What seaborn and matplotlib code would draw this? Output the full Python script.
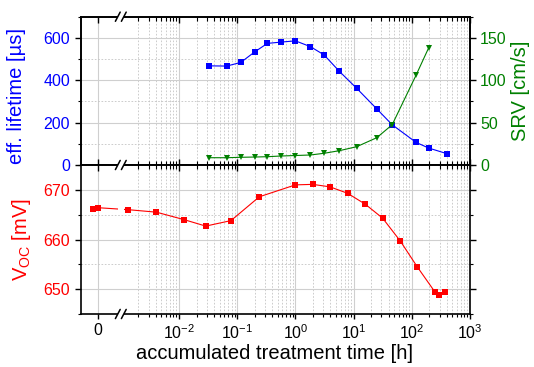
import numpy as np
import matplotlib
matplotlib.use("Agg")
import matplotlib.pyplot as plt
import seaborn as sns
from matplotlib.ticker import FixedLocator, FixedFormatter, MultipleLocator
from matplotlib.path import Path
from matplotlib.lines import Line2D

# ---------------- data ----------------
t_top = [0.033, 0.066, 0.115, 0.20, 0.33, 0.56, 1.0, 1.8, 3.1, 5.7, 11.3, 25, 46, 118, 195, 407]
lifetime = [468, 467, 484, 534, 574, 580, 586, 559, 520, 442, 362, 265, 190, 107, 80, 53]
t_srv = [0.033, 0.066, 0.115, 0.20, 0.33, 0.56, 1.0, 1.8, 3.1, 5.7, 11.3, 25, 46, 118, 195]
srv = [8.6, 8.6, 9.1, 9.4, 9.8, 10.6, 11.2, 11.8, 13.8, 16.9, 21.6, 32.2, 47.5, 105.8, 138.3]
t_voc = [-0.00022, 0.0, 0.00135, 0.0041, 0.0122, 0.0288, 0.078, 0.24, 1.0, 1.98, 3.93,
         7.9, 15.9, 31.5, 63.4, 124, 251, 297, 367]
voc = [666.2, 666.4, 666.0, 665.5, 664.0, 662.7, 663.8, 668.6, 671.0, 671.1, 670.6,
       669.3, 667.1, 664.3, 659.7, 654.5, 649.4, 648.9, 649.5]

x_major = [0, 1e-2, 1e-1, 1, 10, 100, 1000]
x_major_labels = ["0", r"$\mathregular{10^{-2}}$", r"$\mathregular{10^{-1}}$", r"$\mathregular{10^{0}}$",
                  r"$\mathregular{10^{1}}$", r"$\mathregular{10^{2}}$", r"$\mathregular{10^{3}}$"]
x_minor = [k * 10.0 ** e for e in range(-3, 3) for k in range(2, 10)]

BLUE = "#0000FF"
GREEN = "#008000"
RED = "#FF0000"

# ---------------- style ----------------
sns.set_style("white")
plt.rcParams["font.family"] = ["Liberation Sans", "DejaVu Sans"]
plt.rcParams["mathtext.fontset"] = "custom"
plt.rcParams["mathtext.rm"] = "Liberation Sans"
plt.rcParams["mathtext.it"] = "Liberation Sans:italic"
plt.rcParams["font.size"] = 11.5
plt.rcParams["text.color"] = "black"
plt.rcParams["axes.labelcolor"] = "black"
plt.rcParams["xtick.color"] = "black"
plt.rcParams["ytick.color"] = "black"
plt.rcParams["axes.edgecolor"] = "black"

# ---------------- broken x scale (linear near 0, log from 1e-3) ----------------
BRK = 1e-3
S = 0.387


def fwd(x):
    x = np.asarray(x, dtype=float)
    lg = np.log10(np.maximum(x, BRK))
    lin = -3.0 + (x - BRK) / BRK * S
    return np.where(x >= BRK, lg, lin)


def inv(d):
    d = np.asarray(d, dtype=float)
    lg = 10.0 ** np.clip(d, -300, 300)
    lin = BRK + (d + 3.0) / S * BRK
    return np.where(d >= -3.0, lg, lin)


XMIN, XMAX = -7.8e-4, 1e3

W, H = 534, 367
LPX, RPX = 80.7, 470.0
TOP, MID, BOT = 16.7, 165.0, 314.0

fig = plt.figure(figsize=(W / 100, H / 100), dpi=100)
ax1 = fig.add_axes([LPX / W, 1 - MID / H, (RPX - LPX) / W, (MID - TOP) / H])
ax2 = fig.add_axes([LPX / W, 1 - BOT / H, (RPX - LPX) / W, (BOT - MID) / H], sharex=ax1)
ax1.set_xscale("function", functions=(fwd, inv))
ax1.set_xlim(XMIN, XMAX)
ax1r = ax1.twinx()

grid_major = dict(color="#cfcfcf", linestyle="-", linewidth=0.8)
grid_minor = dict(color="#c4c4c4", linestyle=(0, (2, 2)), linewidth=0.6)

for ax in (ax1, ax2):
    ax.set_axisbelow(True)
    ax.xaxis.set_major_locator(FixedLocator(x_major))
    ax.xaxis.set_major_formatter(FixedFormatter(x_major_labels))
    ax.xaxis.set_minor_locator(FixedLocator(x_minor))
    ax.grid(which="major", **grid_major)
    ax.grid(which="minor", **grid_minor)
for ax in (ax1, ax2, ax1r):
    for sp in ax.spines.values():
        sp.set_linewidth(1.2)
        sp.set_color("black")

# ---------------- plots ----------------
sns.lineplot(x=t_top, y=lifetime, ax=ax1, color=BLUE, marker="s", markersize=4.2,
             markeredgewidth=0, linewidth=0.8, estimator=None, sort=False)
sns.lineplot(x=t_srv, y=srv, ax=ax1r, color=GREEN, marker="v", markersize=5,
             markeredgewidth=0, linewidth=0.8, estimator=None, sort=False)
sns.lineplot(x=t_voc, y=voc, ax=ax2, color=RED, marker="s", markersize=4.2,
             markeredgewidth=0, linewidth=0.8, estimator=None, sort=False)
ax1.set_xlim(XMIN, XMAX)

# y axes
ax1.set_ylim(0, 700)
ax1.yaxis.set_major_locator(MultipleLocator(200))
ax1.yaxis.set_minor_locator(MultipleLocator(100))
ax1r.set_ylim(0, 175)
ax1r.yaxis.set_major_locator(MultipleLocator(50))
ax1r.yaxis.set_minor_locator(MultipleLocator(25))
ax2.set_ylim(645, 675)
ax2.yaxis.set_major_locator(MultipleLocator(10))
ax2.yaxis.set_minor_locator(MultipleLocator(5))

# ticks
ax1.tick_params(axis="x", which="major", direction="in", top=True, bottom=True,
                labelbottom=False, length=4.2, width=1.0)
ax1.tick_params(axis="x", which="minor", direction="in", top=True, bottom=True,
                length=2.6, width=0.8)
ax1.tick_params(axis="y", which="major", direction="out", left=True, right=False,
                length=4.3, width=1.0, labelcolor=BLUE, pad=3.3)
ax1.tick_params(axis="y", which="minor", direction="out", left=True, right=False,
                length=2.2, width=0.8)
ax1r.tick_params(axis="y", which="major", direction="out", right=True, left=False,
                 length=4.3, width=1.0, labelcolor=GREEN, pad=3)
ax1r.tick_params(axis="y", which="minor", direction="out", right=True, left=False,
                 length=2.2, width=0.8)

ax2.tick_params(axis="x", which="major", direction="out", top=False, bottom=True,
                length=3.8, width=1.0, pad=3, labelcolor="black")
ax2.tick_params(axis="x", which="minor", direction="out", top=False, bottom=True,
                length=2.4, width=0.8)
ax2.tick_params(axis="y", which="major", direction="out", left=True, right=True,
                labelright=False, length=4.3, width=1.0, labelcolor=RED, pad=3.3)
ax2.tick_params(axis="y", which="minor", direction="out", left=True, right=True,
                length=2.2, width=0.8)

# overlay for inward top ticks of lower panel
ax3 = fig.add_axes(ax2.get_position(), sharex=ax1)
ax3.patch.set_visible(False)
for sp in ax3.spines.values():
    sp.set_visible(False)
ax3.set_yticks([])
ax3.tick_params(axis="x", which="major", direction="in", top=True, bottom=False,
                labelbottom=False, labeltop=False, length=4.2, width=1.0)
ax3.tick_params(axis="x", which="minor", direction="in", top=True, bottom=False,
                length=2.6, width=0.8)
ax1.set_xlim(XMIN, XMAX)

# labels
LBL = 14.5
ax1.set_ylabel("eff. lifetime [µs]", color=BLUE, fontsize=LBL)
ax1.yaxis.set_label_coords((26 - LPX) / (RPX - LPX), 0.465)
ax1r.set_ylabel("SRV [cm/s]", color=GREEN, fontsize=LBL, rotation=90)
ax1r.yaxis.set_label_coords((511 - LPX) / (RPX - LPX), 0.5)
ax2.set_ylabel(r"$\mathregular{V_{OC}}$ [mV]", color=RED, fontsize=LBL)
ax2.yaxis.set_label_coords((33 - LPX) / (RPX - LPX), 0.5)
ax2.set_xlabel("accumulated treatment time [h]", fontsize=LBL, color="black")
ax2.xaxis.set_label_coords(0.497, (BOT - 344) / (BOT - MID))
ax1.set_xlabel("")
ax1r.set_xlabel("")

# ---------------- axis break ----------------
frac = float((fwd(BRK) - fwd(XMIN)) / (fwd(XMAX) - fwd(XMIN)))
bx = LPX + frac * (RPX - LPX)
gap = 3.0
g0 = frac - gap / (RPX - LPX)
g1 = frac + gap / (RPX - LPX)
verts = [(-0.1, -0.2), (g0, -0.2), (g0, 1.2), (-0.1, 1.2), (-0.1, -0.2),
         (g1, -0.2), (1.1, -0.2), (1.1, 1.2), (g1, 1.2), (g1, -0.2)]
codes = [Path.MOVETO, Path.LINETO, Path.LINETO, Path.LINETO, Path.CLOSEPOLY] * 2
clip = Path(verts, codes)
ax2.lines[-1].set_clip_path(clip, ax2.transAxes)


def fx(px):
    return px / W


def fy(py):
    return 1 - py / H


for y0 in (TOP, MID, BOT):
    fig.add_artist(Line2D([fx(bx - gap), fx(bx + gap)], [fy(y0), fy(y0)],
                          color="white", linewidth=2.6, solid_capstyle="butt"))
    for off in (-gap, gap):
        fig.add_artist(Line2D([fx(bx + off - 2.4), fx(bx + off + 2.4)],
                              [fy(y0 + 4.6), fy(y0 - 4.6)], color="black", linewidth=1.1))

fig.savefig("out.png", dpi=100)
